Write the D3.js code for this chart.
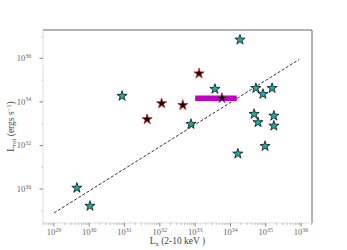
<!DOCTYPE html>
<html>
<head>
<meta charset="utf-8">
<script src="https://cdn.jsdelivr.net/npm/d3@7"></script>
<style>
  body { margin: 0; background: #fff; }
  svg text { font-family: "Liberation Serif", "DejaVu Serif", serif; }
</style>
</head>
<body>
<div id="chart"></div>
<script>
// log10 values
const cyanX = [29.65, 30.02, 30.93, 32.88, 34.27, 33.56, 34.72, 34.92, 35.18, 34.67, 34.78, 35.23, 35.23, 34.98, 34.21];
const cyanY = [30.05, 29.22, 34.27, 32.98, 36.85, 34.59, 34.63, 34.36, 34.63, 33.44, 33.06, 33.36, 32.9, 31.97, 31.62];

const redX = [31.64, 32.05, 32.65, 33.11];
const redY = [33.2, 33.93, 33.85, 35.3];

const barX = [33.0, 34.18];
const barY = 34.17;
const barStarX = 33.76;
const barStarY = 34.17;

const fitX = [29.0, 35.95];
const fitY = [28.9, 35.95];

const xTicks = [29, 30, 31, 32, 33, 34, 35, 36];
const yTicks = [30, 32, 34, 36];

const width = 347, height = 250;
const margin = {left: 43, top: 30, right: 35, bottom: 27};

const svg = d3.select('#chart').append('svg')
    .attr('width', width)
    .attr('height', height);

const x = d3.scaleLinear()
    .domain([28.69, 36.31])
    .range([margin.left, width - margin.right]);

const y = d3.scaleLinear()
    .domain([28.44, 37.3])
    .range([height - margin.bottom, margin.top]);

const x0 = margin.left, x1 = width - margin.right;
const y0 = height - margin.bottom, y1 = margin.top;

// spines
svg.append('line').attr('x1', x0).attr('x2', x1).attr('y1', y1).attr('y2', y1)
    .attr('stroke', '#666').attr('stroke-width', 1);
svg.append('line').attr('x1', x1).attr('x2', x1).attr('y1', y1).attr('y2', y0)
    .attr('stroke', '#666').attr('stroke-width', 1);
svg.append('line').attr('x1', x0).attr('x2', x1).attr('y1', y0).attr('y2', y0)
    .attr('stroke', '#ddd').attr('stroke-width', 1);
svg.append('line').attr('x1', x0).attr('x2', x0).attr('y1', y1).attr('y2', y0)
    .attr('stroke', '#ddd').attr('stroke-width', 1);

// x axis ticks, major + minor
const xMinor = [];
for (let d = 28; d <= 36; d++) {
    for (let k = 2; k <= 9; k++) {
        const v = d + Math.log10(k);
        if (v > 28.69 && v < 36.31) xMinor.push(v);
    }
}
svg.append('g').selectAll('line').data(xMinor).enter().append('line')
    .attr('x1', d => x(d)).attr('x2', d => x(d))
    .attr('y1', y0).attr('y2', y0 + 2)
    .attr('stroke', '#999').attr('stroke-width', 0.6);
svg.append('g').selectAll('line').data(xTicks).enter().append('line')
    .attr('x1', d => x(d)).attr('x2', d => x(d))
    .attr('y1', y0).attr('y2', y0 + 3.5)
    .attr('stroke', '#666').attr('stroke-width', 0.8);

const xLab = svg.append('g').selectAll('text').data(xTicks).enter().append('text')
    .attr('x', d => x(d))
    .attr('y', y0 + 12)
    .attr('text-anchor', 'middle')
    .attr('fill', '#666')
    .attr('font-size', 8.5);
xLab.append('tspan').text('10');
xLab.append('tspan').attr('dy', -3.5).attr('font-size', 6).text(d => d);

// y axis ticks
const yMinor = d3.range(29, 38).filter(v => yTicks.indexOf(v) < 0);
svg.append('g').selectAll('line').data(yMinor).enter().append('line')
    .attr('x1', x0 - 2).attr('x2', x0)
    .attr('y1', d => y(d)).attr('y2', d => y(d))
    .attr('stroke', '#bbb').attr('stroke-width', 0.6);
svg.append('g').selectAll('line').data(yTicks).enter().append('line')
    .attr('x1', x0 - 3.5).attr('x2', x0)
    .attr('y1', d => y(d)).attr('y2', d => y(d))
    .attr('stroke', '#666').attr('stroke-width', 0.8);

const yLab = svg.append('g').selectAll('text').data(yTicks).enter().append('text')
    .attr('x', x0 - 19)
    .attr('y', d => y(d) + 3)
    .attr('text-anchor', 'middle')
    .attr('fill', '#666')
    .attr('font-size', 8.5);
yLab.append('tspan').text('10');
yLab.append('tspan').attr('dy', -3.5).attr('font-size', 6).text(d => d);

// axis labels
const xt = svg.append('text')
    .attr('x', (x0 + x1) / 2)
    .attr('y', height - 6)
    .attr('text-anchor', 'middle')
    .attr('fill', '#444')
    .attr('font-size', 9.5);
xt.append('tspan').text('L');
xt.append('tspan').attr('dy', 2).attr('font-size', 6.5).text('x');
xt.append('tspan').attr('dy', -2).text(' (2-10 keV )');

const yt = svg.append('text')
    .attr('transform', `translate(14, ${(y0 + y1) / 2}) rotate(-90)`)
    .attr('text-anchor', 'middle')
    .attr('fill', '#444')
    .attr('font-size', 9.5);
yt.append('tspan').text('L');
yt.append('tspan').attr('dy', 2).attr('font-size', 6.5).text('rot');
yt.append('tspan').attr('dy', -2).text(' (ergs s');
yt.append('tspan').attr('dy', -3.5).attr('font-size', 6.5).text('\u22121');
yt.append('tspan').attr('dy', 3.5).text(')');

// dashed fit line
svg.append('line')
    .attr('x1', x(fitX[0])).attr('y1', y(fitY[0]))
    .attr('x2', x(fitX[1])).attr('y2', y(fitY[1]))
    .attr('stroke', '#000')
    .attr('stroke-width', 0.8)
    .attr('stroke-dasharray', '3,1.8');

// magenta bar
svg.append('line')
    .attr('x1', x(barX[0])).attr('x2', x(barX[1]))
    .attr('y1', y(barY)).attr('y2', y(barY))
    .attr('stroke', '#c000c0')
    .attr('stroke-width', 5.5);

const star = d3.symbol().type(d3.symbolStar).size(32);

const cyan = cyanX.map((v, i) => ({x: v, y: cyanY[i]}));
svg.append('g').selectAll('path').data(cyan).enter().append('path')
    .attr('d', star)
    .attr('transform', d => `translate(${x(d.x)},${y(d.y)})`)
    .attr('fill', '#19adad')
    .attr('stroke', '#111')
    .attr('stroke-width', 0.8);

const red = redX.map((v, i) => ({x: v, y: redY[i]}));
svg.append('g').selectAll('path').data(red).enter().append('path')
    .attr('d', star)
    .attr('transform', d => `translate(${x(d.x)},${y(d.y)})`)
    .attr('fill', '#000')
    .attr('stroke', '#e02020')
    .attr('stroke-width', 0.9);

svg.append('path')
    .attr('d', star)
    .attr('transform', `translate(${x(barStarX)},${y(barStarY)})`)
    .attr('fill', '#000')
    .attr('stroke', '#a0208a')
    .attr('stroke-width', 0.9);
</script>
</body>
</html>
